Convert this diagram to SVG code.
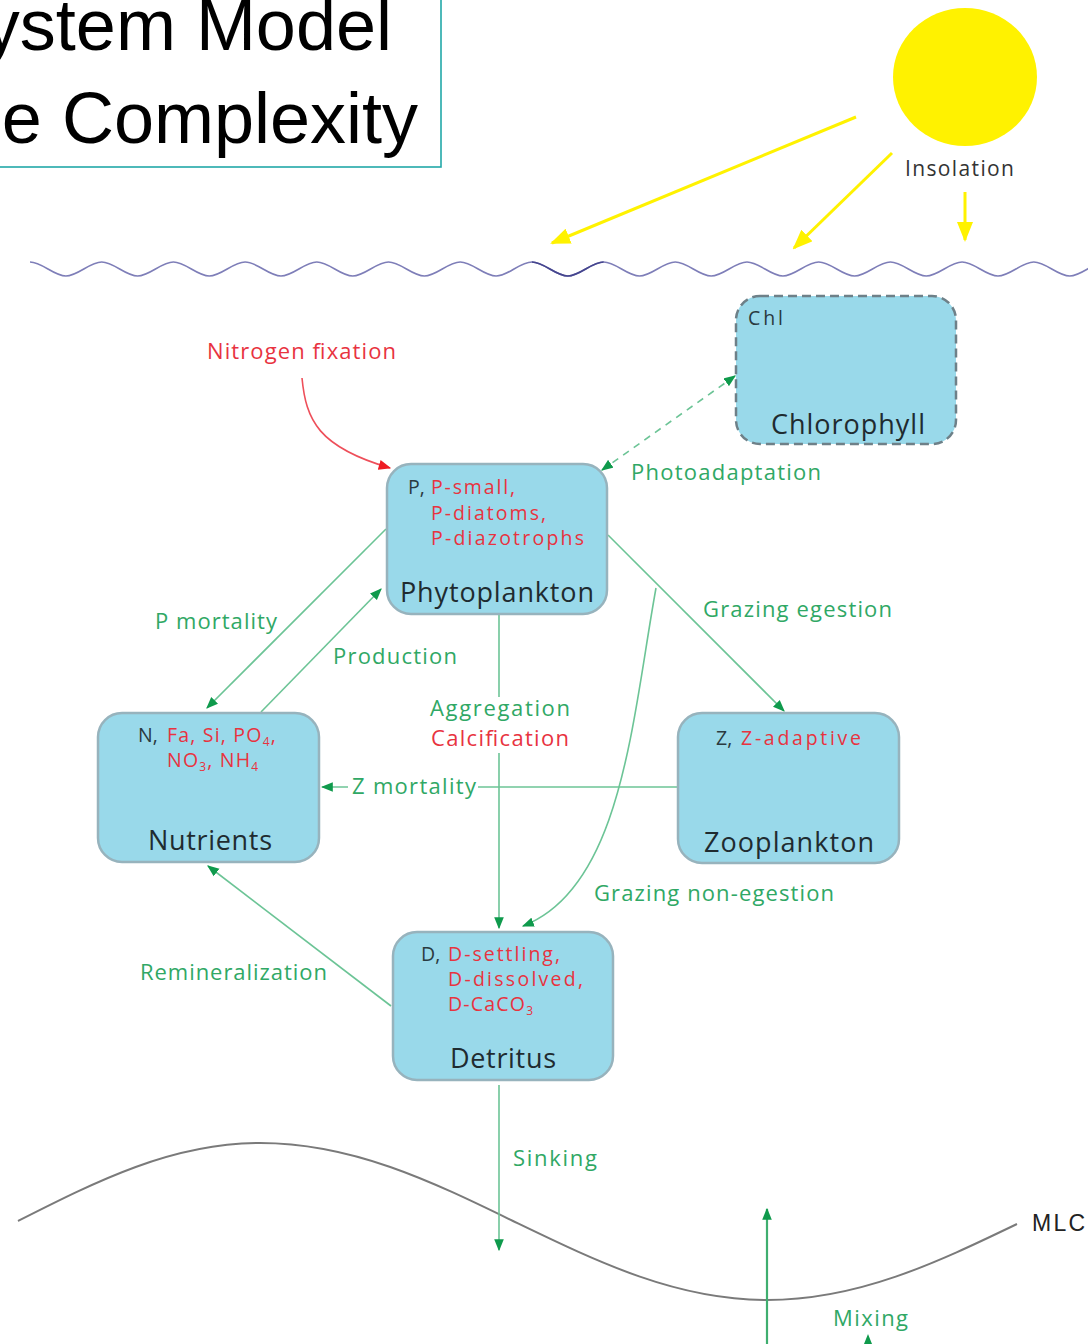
<svg xmlns="http://www.w3.org/2000/svg" width="1088" height="1344" viewBox="0 0 1088 1344">
  <style>
    .title { font-family: "Liberation Sans", Arial, sans-serif; font-size: 72px; fill: #000; }
    .box { fill: #99d9ea; stroke: #97b3bd; stroke-width: 2.5; }
    .boxdash { fill: #99d9ea; stroke: #6e8088; stroke-width: 2.5; stroke-dasharray: 9 5; }
    .t { font-family: "Open Sans", "Noto Sans", sans-serif; }
    .name { font-size: 27px; fill: #1f2b30; }
    .blk { font-size: 19.5px; fill: #2a3a40; }
    .red { font-size: 19.5px; fill: #e8333f; }
    .lbl { font-size: 22px; fill: #30a865; }
    .lblr { font-size: 22px; fill: #e8333f; }
    .link { fill: none; stroke: #6cc496; stroke-width: 1.6; }
    .sun { fill: none; stroke: #fff200; stroke-width: 3; }
  </style>
  <defs>
    <marker id="ah" viewBox="0 0 10 8" refX="9" refY="4" markerWidth="12" markerHeight="10" markerUnits="userSpaceOnUse" orient="auto-start-reverse">
      <path d="M0,0 L10,4 L0,8 Z" fill="#0f9a4c"/>
    </marker>
    <marker id="ahr" viewBox="0 0 10 8" refX="9" refY="4" markerWidth="13" markerHeight="10" markerUnits="userSpaceOnUse" orient="auto">
      <path d="M0,0 L10,4 L0,8 Z" fill="#ee1c24"/>
    </marker>
    <marker id="ahy" viewBox="0 0 10 8" refX="9" refY="4" markerWidth="20" markerHeight="16" markerUnits="userSpaceOnUse" orient="auto">
      <path d="M0,0 L10,4 L0,8 Z" fill="#fff200"/>
    </marker>
  </defs>

  <!-- title frame -->
  <g id="title">
    <rect x="-10" y="-10" width="451" height="177" fill="#fff" stroke="#22a8a8" stroke-width="1.6"/>
    <text class="title" x="392" y="50" text-anchor="end">ystem Model</text>
    <text class="title" x="418" y="143" text-anchor="end">e Complexity</text>
  </g>

  <!-- sun and light rays -->
  <g id="sun">
    <ellipse cx="965" cy="77" rx="72" ry="69" fill="#fff200"/>
    <text class="t" x="905" y="176" font-size="21" fill="#333" textLength="109">Insolation</text>
  </g>
  <g id="rays">
    <line class="sun" x1="856" y1="117" x2="552" y2="243" marker-end="url(#ahy)"/>
    <line class="sun" x1="892" y1="153" x2="794" y2="248" marker-end="url(#ahy)"/>
    <line class="sun" x1="965" y1="192" x2="965" y2="240" marker-end="url(#ahy)"/>
  </g>

  <!-- sea surface -->
  <g id="surface" fill="none" stroke-width="1.6">
    <path stroke="#7e7eb8" d="M30,262 C42,262 53.9,276 65.9,276 S89.7,262 101.7,262 S125.6,276 137.6,276 S161.4,262 173.4,262 S197.3,276 209.3,276 S233.1,262 245.1,262 S269,276 281,276 S304.8,262 316.8,262 S340.7,276 352.7,276 S376.5,262 388.5,262 S412.4,276 424.4,276 S448.2,262 460.2,262 S484.1,276 496.1,276 S519.9,262 531.9,262 S555.8,276 567.8,276 S591.6,262 603.6,262 S627.5,276 639.5,276 S663.3,262 675.3,262 S699.2,276 711.2,276 S735,262 747,262 S770.9,276 782.9,276 S806.7,262 818.7,262 S842.6,276 854.6,276 S878.4,262 890.4,262 S914.3,276 926.3,276 S950.1,262 962.1,262 S986,276 998,276 S1021.8,262 1033.8,262 S1057.7,276 1069.7,276 S1093.5,262 1105.5,262"/>
    <path stroke="#45458e" d="M531.9,262 C543.9,262 555.8,276 567.8,276 S591.6,262 603.6,262"/>
  </g>

  <!-- mixed layer curve -->
  <g id="mlc">
    <path d="M18,1221 C97,1181 172,1143 260,1143 C352,1143 431,1181 513,1221 C596,1261 675,1300 767,1300 C858,1300 936,1263 1017,1224" fill="none" stroke="#7a7a7a" stroke-width="2"/>
    <text font-family="'Liberation Sans Narrow', 'Liberation Sans', sans-serif" x="1032" y="1231" font-size="23" fill="#222" textLength="53">MLC</text>
  </g>

  <!-- connectors -->
  <g id="connectors">
    <path d="M302,378 C306,420 318,447 390,468" fill="none" stroke="#ee4f5a" stroke-width="1.6" marker-end="url(#ahr)"/>
    <line class="link" x1="735" y1="376" x2="602" y2="470" stroke-dasharray="7 6" marker-start="url(#ah)" marker-end="url(#ah)"/>
    <line class="link" x1="386" y1="529" x2="207" y2="708" marker-end="url(#ah)"/>
    <line class="link" x1="261" y1="712" x2="381" y2="589" marker-end="url(#ah)"/>
    <line class="link" x1="608" y1="535" x2="784" y2="711" marker-end="url(#ah)"/>
    <line class="link" x1="499" y1="615" x2="499" y2="928" marker-end="url(#ah)"/>
    <path class="link" d="M656,588 C632,720 622,888 523,926" marker-end="url(#ah)"/>
    <line class="link" x1="678" y1="787" x2="322" y2="787" marker-end="url(#ah)"/>
    <line class="link" x1="391" y1="1006" x2="208" y2="866" marker-end="url(#ah)"/>
    <line class="link" x1="499" y1="1085" x2="499" y2="1250" marker-end="url(#ah)"/>
    <line x1="767" y1="1344" x2="767" y2="1209" stroke="#3fae6f" stroke-width="2.2" marker-end="url(#ah)"/>
    <path d="M864,1344 L868,1334 L872,1344 Z" fill="#0f9a4c"/>
  </g>

  <!-- flux labels -->
  <g id="labels" class="t">
    <text class="lblr" x="207" y="359" textLength="189">Nitrogen fixation</text>
    <text class="lbl" x="631" y="480" textLength="190">Photoadaptation</text>
    <text class="lbl" x="703" y="617" textLength="189">Grazing egestion</text>
    <text class="lbl" x="155" y="629" textLength="122">P mortality</text>
    <text class="lbl" x="333" y="664" textLength="124">Production</text>
    <rect x="428" y="697" width="144" height="56" fill="#fff"/>
    <text class="lbl" x="430" y="716" textLength="140">Aggregation</text>
    <text class="lblr" x="431" y="746" textLength="138">Calcification</text>
    <rect x="348" y="775" width="130" height="26" fill="#fff"/>
    <text class="lbl" x="352" y="794" textLength="124">Z mortality</text>
    <text class="lbl" x="594" y="901" textLength="240">Grazing non-egestion</text>
    <text class="lbl" x="140" y="980" textLength="187">Remineralization</text>
    <text class="lbl" x="513" y="1166" textLength="84">Sinking</text>
    <text class="lbl" x="833" y="1326" textLength="75">Mixing</text>
  </g>

  <!-- compartments -->
  <g id="chlorophyll" class="t">
    <rect class="boxdash" x="736" y="296" width="220" height="148" rx="24"/>
    <text class="blk" x="748" y="325" textLength="35">Chl</text>
    <text class="name" x="771" y="434" textLength="154">Chlorophyll</text>
  </g>

  <g id="phytoplankton" class="t">
    <rect class="box" x="387" y="464" width="220" height="150" rx="24"/>
    <text class="blk" x="408" y="494">P,</text>
    <text class="red" x="431" y="494" textLength="84">P-small,</text>
    <text class="red" x="431" y="520" textLength="115">P-diatoms,</text>
    <text class="red" x="431" y="545" textLength="153">P-diazotrophs</text>
    <text class="name" x="400" y="602" textLength="194">Phytoplankton</text>
  </g>

  <g id="nutrients" class="t">
    <rect class="box" x="98" y="713" width="221" height="149" rx="24"/>
    <text class="blk" x="138" y="742">N,</text>
    <text class="red" x="167" y="742" letter-spacing="1.2">Fa, Si, PO<tspan font-size="12" dy="4">4</tspan><tspan dy="-4">,</tspan></text>
    <text class="red" x="167" y="767" letter-spacing="1.2">NO<tspan font-size="12" dy="4">3</tspan><tspan dy="-4">, NH</tspan><tspan font-size="12" dy="4">4</tspan></text>
    <text class="name" x="148" y="850" textLength="124">Nutrients</text>
  </g>

  <g id="zooplankton" class="t">
    <rect class="box" x="678" y="713" width="221" height="150" rx="24"/>
    <text class="blk" x="716" y="745">Z,</text>
    <text class="red" x="741" y="745" textLength="120">Z-adaptive</text>
    <text class="name" x="704" y="852" textLength="170">Zooplankton</text>
  </g>

  <g id="detritus" class="t">
    <rect class="box" x="393" y="932" width="220" height="148" rx="24"/>
    <text class="blk" x="421" y="961">D,</text>
    <text class="red" x="448" y="961" textLength="112">D-settling,</text>
    <text class="red" x="448" y="986" textLength="135">D-dissolved,</text>
    <text class="red" x="448" y="1011" letter-spacing="1.2">D-CaCO<tspan font-size="12" dy="4">3</tspan></text>
    <text class="name" x="450" y="1068" textLength="106">Detritus</text>
  </g>
</svg>
